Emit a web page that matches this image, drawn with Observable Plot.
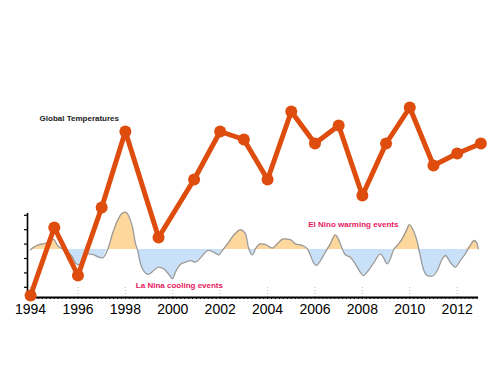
<!DOCTYPE html>
<html>
<head>
<meta charset="utf-8">
<script src="https://cdn.jsdelivr.net/npm/d3@7"></script>
<script src="https://cdn.jsdelivr.net/npm/@observablehq/plot@0.6"></script>
<style>
  html, body { margin: 0; padding: 0; background: #fff; }
  #wrap { position: relative; width: 500px; height: 375px; }
  #wrap svg { position: absolute; left: 0; top: 0; background: transparent; }
</style>
</head>
<body>
<div id="wrap"></div>
<script>
// Global temperature series (anomaly)
const tempYears = [1994, 1995, 1996, 1997, 1998, 1999.4, 2000.9, 2002, 2003, 2004, 2005, 2006, 2007, 2008, 2009, 2010, 2011, 2012, 2013];
const tempValues = [0.25, 0.42, 0.30, 0.47, 0.66, 0.395, 0.54, 0.66, 0.64, 0.54, 0.71, 0.63, 0.675, 0.50, 0.63, 0.72, 0.575, 0.605, 0.63];

// ENSO index series
const ensoYears = [1994.00,1994.13,1994.34,1994.55,1994.76,1994.97,1995.14,1995.39,1995.56,1995.77,1995.90,1996.02,1996.19,1996.32,1996.45,1996.66,1996.87,1997.04,1997.25,1997.46,1997.67,1997.88,1998.01,1998.13,1998.30,1998.43,1998.51,1998.64,1998.76,1998.97,1999.19,1999.40,1999.61,1999.82,1999.99,2000.11,2000.32,2000.53,2000.75,2000.96,2001.17,2001.38,2001.50,2001.72,2001.93,2002.09,2002.31,2002.56,2002.86,2003.07,2003.19,2003.36,2003.49,2003.70,2003.91,2004.20,2004.41,2004.67,2004.96,2005.17,2005.47,2005.68,2005.80,2005.93,2006.06,2006.23,2006.44,2006.65,2006.86,2006.98,2007.15,2007.28,2007.49,2007.70,2007.91,2008.04,2008.25,2008.54,2008.76,2008.88,2009.05,2009.18,2009.30,2009.47,2009.68,2009.89,2009.98,2010.15,2010.32,2010.44,2010.57,2010.74,2010.95,2011.16,2011.37,2011.50,2011.71,2011.92,2012.13,2012.34,2012.55,2012.72,2012.84,2012.89];
const ensoValues = [-0.02,0.19,0.39,0.47,0.61,0.85,0.33,0.00,-0.22,-0.64,-1.14,-1.28,-1.06,-0.50,-0.36,-0.42,-0.64,-0.69,-0.02,1.33,2.42,3.03,3.11,2.83,1.86,0.47,0.00,-1.19,-1.75,-2.08,-1.75,-1.47,-1.61,-2.03,-2.44,-1.89,-1.25,-1.06,-0.92,-1.06,-0.69,-0.22,-0.08,-0.22,-0.44,-0.08,0.47,1.17,1.64,1.31,0.19,-0.44,0.06,0.47,0.42,0.11,0.47,0.89,0.83,0.47,0.33,0.06,-0.44,-1.06,-1.33,-0.92,-0.22,0.47,1.22,0.89,0.06,-0.44,-0.64,-1.19,-1.89,-2.17,-1.75,-0.92,-0.36,-0.64,-1.19,-0.78,-0.08,0.33,0.89,1.72,2.08,1.58,0.61,-0.50,-1.61,-2.17,-2.22,-1.75,-0.78,-0.50,-1.06,-1.47,-0.92,-0.36,0.33,0.75,0.47,0.06];

// Axis ticks
const labelYears = [1994, 1996, 1998, 2000, 2002, 2004, 2006, 2008, 2010, 2012];
const ensoTicks = [-3.15, -1.95, -0.75, 0.45, 1.65, 2.85];

const temps = tempYears.map((y, i) => ({year: y, value: tempValues[i]}));
const enso = ensoYears.map((y, i) => ({year: y, value: ensoValues[i]}));

const xDomain = [1993.87, 2012.9];
const common = {width: 500, height: 375, marginLeft: 27, marginRight: 22};

const ensoPlot = Plot.plot({
  ...common,
  marginTop: 213,
  marginBottom: 78,
  x: {domain: xDomain, label: null},
  y: {domain: [-4, 3], label: null},
  style: {fontFamily: "'Liberation Sans', Arial, sans-serif", background: "transparent"},
  marks: [
    Plot.ruleX(labelYears, {x: d => d, y1: -4, y2: -3, stroke: "#bbb", strokeDasharray: "1,2"}),
    Plot.areaY(enso, {x: "year", y1: 0, y2: d => Math.max(0, d.value), fill: "#FDD79B", curve: "monotone-x"}),
    Plot.areaY(enso, {x: "year", y1: 0, y2: d => Math.min(0, d.value), fill: "#C8E1F8", curve: "monotone-x"}),
    Plot.lineY(enso, {x: "year", y: "value", stroke: "#999", strokeWidth: 1.3, curve: "monotone-x"}),
    Plot.axisY({ticks: ensoTicks, tickSize: 3, text: null, label: null, stroke: "#000", strokeWidth: 1.2}),
    Plot.ruleX([xDomain[0]], {y1: -4, y2: 3, stroke: "#000", strokeWidth: 1.6}),
    Plot.axisX({ticks: d3.range(1994, 2013, 1/6), tickSize: 2, text: null, label: null, stroke: "#000", strokeWidth: 1}),
    Plot.axisX({ticks: labelYears, tickSize: 0, tickPadding: 7, tickFormat: d => String(d), fontSize: 14, fill: "#000", label: null, ariaLabel: "year labels"}),
    Plot.ruleY([-4], {stroke: "#000", strokeWidth: 2}),
    Plot.text(["El Nino warming events"], {x: 2007.62, y: 2.08, text: d => d, fill: "#E8185E", fontSize: 8, fontWeight: "bold"}),
    Plot.text(["La Nina cooling events"], {x: 2000.28, y: -3.0, text: d => d, fill: "#E8185E", fontSize: 8, fontWeight: "bold"})
  ]
});

// narrow the year labels to match the condensed face of the original
ensoPlot.querySelectorAll('g[aria-label="year labels"] text').forEach(t => {
  t.setAttribute("textLength", 24);
  t.setAttribute("lengthAdjust", "spacingAndGlyphs");
});

const tempPlot = Plot.plot({
  ...common,
  marginTop: 75,
  marginBottom: 60,
  x: {domain: xDomain, axis: null},
  y: {domain: [0.2, 0.8], axis: null},
  style: {fontFamily: "'Liberation Sans', Arial, sans-serif", background: "transparent"},
  marks: [
    Plot.line(temps, {x: "year", y: "value", stroke: "#DE4D0E", strokeWidth: 5, strokeLinejoin: "round"}),
    Plot.dot(temps, {x: "year", y: "value", r: 6, fill: "#DE4D0E"}),
    Plot.text(["Global Temperatures"], {x: 1994.38, y: 0.6925, text: d => d, textAnchor: "start", fill: "#222", fontSize: 8, fontWeight: 600})
  ]
});

const wrap = document.getElementById("wrap");
wrap.appendChild(ensoPlot);
wrap.appendChild(tempPlot);
</script>
</body>
</html>
